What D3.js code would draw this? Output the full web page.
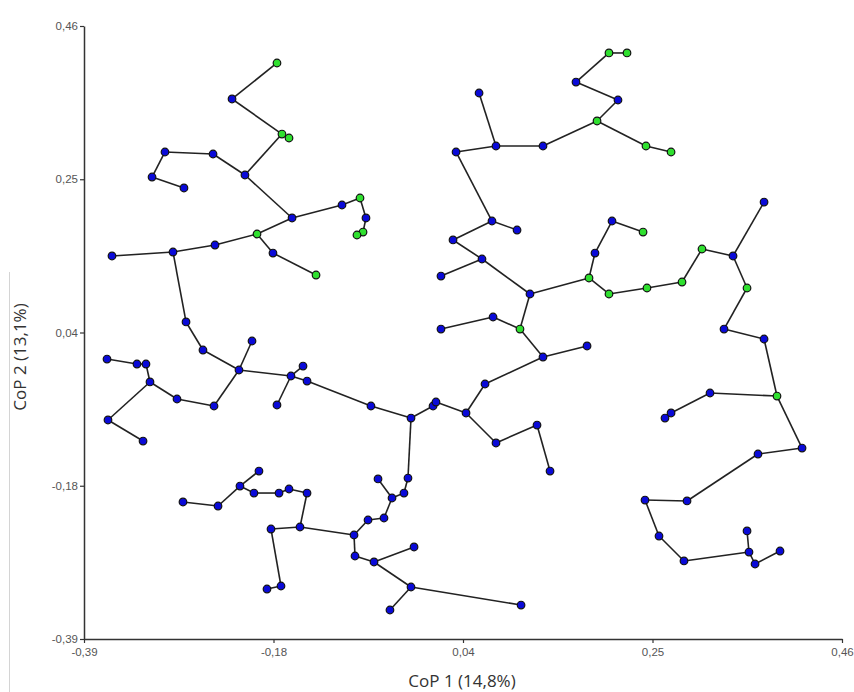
<!DOCTYPE html>
<html><head><meta charset="utf-8">
<script src="https://cdn.jsdelivr.net/npm/d3@7"></script>
<style>body{margin:0;background:#fff}svg{display:block}</style>
</head><body>
<svg id="c" width="854" height="692"></svg>
<script>
// Node coordinates (CoP 1, CoP 2) and group (0 = blue, 1 = green)
const nodeX = [-0.1736,-0.2240,-0.1680,-0.1601,-0.2992,-0.2453,-0.2095,-0.3137,-0.2779,-0.1567,
 -0.1007,-0.0805,-0.0738,-0.0771,-0.0839,-0.1960,-0.1781,-0.1298,-0.2431,-0.2902,
 -0.3586,-0.2756,-0.2566,-0.2162,-0.2016,-0.2442,-0.2857,-0.3160,-0.3205,-0.3306,
 -0.3642,-0.3631,-0.3238,-0.1579,-0.1444,-0.1736,-0.1399,-0.0682,-0.0233,0.0014,
 0.0047,0.0384,0.0597,0.1247,0.1741,0.0989,0.0687,0.0103,0.1101,0.0563,
 0.0238,0.0103,0.0675,0.0956,0.0272,0.0720,0.0530,0.1247,0.1853,0.2088,
 0.1617,0.1987,0.2189,0.2402,0.2683,0.1763,0.1830,0.2021,0.2369,0.1987,
 0.2413,0.2806,0.3030,0.3378,0.3726,0.3535,0.3277,0.3726,0.3871,0.3120,
 0.2683,0.2615,0.4152,0.3658,0.2862,0.2391,0.2548,0.2828,0.3557,0.3535,
 0.3625,0.3905,0.1326,0.1180,0.0720,-0.0267,-0.0312,-0.0446,-0.0603,-0.0536,
 -0.0715,-0.0872,-0.0861,-0.0648,-0.0199,-0.0233,-0.0469,0.1001,-0.1478,-0.1399,
 -0.1601,-0.1713,-0.1803,-0.1691,-0.1848,-0.1994,-0.2151,-0.1938,-0.2397,-0.2790];
const nodeY = [0.4087,0.3588,0.3102,0.3047,0.2853,0.2825,0.2534,0.2506,0.2354,0.1938,
 0.2118,0.2215,0.1938,0.1743,0.1702,0.1716,0.1452,0.1147,0.1563,0.1466,
 0.1411,0.0496,0.0107,-0.0170,0.0232,-0.0669,-0.0572,-0.0336,-0.0087,-0.0087,
 -0.0018,-0.0863,-0.1155,-0.0253,-0.0115,-0.0655,-0.0323,-0.0669,-0.0836,-0.0669,
 -0.0614,-0.0766,-0.0364,0.0010,0.0163,0.0398,0.0565,0.0398,0.0884,0.1369,
 0.1633,0.1133,0.1896,0.1771,0.2853,0.2936,0.3671,0.2936,0.3283,0.3574,
 0.3823,0.4226,0.4226,0.2936,0.2853,0.1106,0.1452,0.1896,0.1743,0.0884,
 0.0967,0.1050,0.1508,0.1411,0.2159,0.0967,0.0398,0.0260,-0.0531,-0.0489,
 -0.0766,-0.0836,-0.1252,-0.1335,-0.1986,-0.1973,-0.2472,-0.2818,-0.2694,-0.2402,
 -0.2860,-0.2680,-0.1571,-0.0933,-0.1182,-0.1668,-0.1876,-0.1945,-0.1681,-0.2222,
 -0.2250,-0.2458,-0.2749,-0.2832,-0.2624,-0.3179,-0.3498,-0.3429,-0.2347,-0.1876,
 -0.1820,-0.1876,-0.2375,-0.3165,-0.3207,-0.1876,-0.1779,-0.1571,-0.2056,-0.2000];
const nodeGroup = [1,0,1,1,0,0,0,0,0,0, 0,1,0,1,1,1,0,1,0,0,
 0,0,0,0,0,0,0,0,0,0, 0,0,0,0,0,0,0,0,0,0,
 0,0,0,0,0,1,0,0,0,0, 0,0,0,0,0,0,0,0,1,0,
 0,1,1,1,1,1,0,0,1,1, 1,1,1,0,0,1,0,0,1,0,
 0,0,0,0,0,0,0,0,0,0, 0,0,0,0,0,0,0,0,0,0,
 0,0,0,0,0,0,0,0,0,0, 0,0,0,0,0,0,0,0,0,0];
// Tree edges (1-based node numbers)
const edgeFrom = [1,2,3,7,5,6,5,8,7,10,11,12,13,14,10,16,17,16,19,20,20,22,23,24,24,26,27,28,29,30,28,32,24,34,34,34,37,38,39,40,41,42,43,44,44,46,47,46,49,50,50,51,53,53,55,56,56,58,59,60,61,62,59,64,49,66,67,68,66,70,71,72,73,74,74,76,77,78,79,80,81,79,83,84,85,86,87,88,89,89,91,42,95,94,39,96,97,98,98,100,101,102,103,104,104,106,106,102,109,110,111,112,116,117,117,119,109,113,114];
const edgeTo   = [2,3,4,3,6,7,8,9,10,11,12,13,14,15,16,17,18,19,20,21,22,23,24,25,26,27,28,29,30,31,32,33,34,35,36,37,38,39,40,41,42,43,44,45,46,47,48,49,50,51,52,53,54,55,56,57,58,59,60,61,62,63,64,65,66,67,68,69,70,71,72,73,74,75,76,77,78,79,80,81,82,83,84,85,86,87,88,89,90,91,92,95,94,93,96,97,98,99,100,101,102,103,104,105,106,107,108,109,110,111,112,116,117,118,119,120,113,114,115];
const tickValues = [-0.39,-0.1775,0.035,0.2475,0.46];
const tickLabels = ["-0,39","-0,18","0,04","0,25","0,46"];
const xTitle = "CoP 1 (14,8%)";
const yTitle = "CoP 2 (13,1%)";

const svg = d3.select("#c");
const x = d3.scaleLinear().domain([-0.39,0.46]).range([84,842]);
const y = d3.scaleLinear().domain([-0.39,0.46]).range([639,26]);

// faint frame line at left edge
svg.append("line").attr("x1",9.5).attr("x2",9.5).attr("y1",272).attr("y2",692)
  .attr("stroke","#d4d4d4").attr("stroke-width",1);

const xAxis = d3.axisBottom(x).tickValues(tickValues).tickFormat((d,i)=>tickLabels[i]).tickSize(4).tickSizeOuter(0);
const yAxis = d3.axisLeft(y).tickValues(tickValues).tickFormat((d,i)=>tickLabels[i]).tickSize(4).tickSizeOuter(0);
const gx = svg.append("g").attr("transform","translate(0,639)").call(xAxis);
const gy = svg.append("g").attr("transform","translate(84,0)").call(yAxis);
[gx,gy].forEach(g=>{
  g.select(".domain").attr("stroke","#333").attr("stroke-width",1.5);
  g.selectAll(".tick line").attr("stroke","#333").attr("stroke-width",1.2);
  g.selectAll(".tick text").attr("fill","#555").style("font-family","Liberation Sans, Arial, sans-serif").style("font-size","11.5px");
});
gx.selectAll(".tick text").attr("dy","0.9em");
gy.selectAll(".tick text").attr("x",-6);

svg.append("text").attr("x",462).attr("y",687).attr("text-anchor","middle")
  .style("font-family","'Open Sans', sans-serif").style("font-size","17px").attr("fill","#333").text(xTitle);
svg.append("text").attr("transform","translate(26,357) rotate(-90)").attr("text-anchor","middle")
  .style("font-family","'Open Sans', sans-serif").style("font-size","17px").attr("fill","#333").text(yTitle);

const nodes = nodeX.map((v,i)=>({x:v,y:nodeY[i],g:nodeGroup[i]}));
const edges = edgeFrom.map((f,i)=>({s:nodes[f-1],t:nodes[edgeTo[i]-1]}));

svg.append("g").selectAll("line").data(edges).join("line")
  .attr("x1",d=>x(d.s.x)).attr("y1",d=>y(d.s.y))
  .attr("x2",d=>x(d.t.x)).attr("y2",d=>y(d.t.y))
  .attr("stroke","#222").attr("stroke-width",1.6);

svg.append("g").selectAll("circle").data(nodes).join("circle")
  .attr("cx",d=>x(d.x)).attr("cy",d=>y(d.y)).attr("r",3.8)
  .attr("fill",d=>d.g?"#2fe02f":"#0a0ad8").attr("stroke","#111").attr("stroke-width",1.2);
</script>
</body></html>
